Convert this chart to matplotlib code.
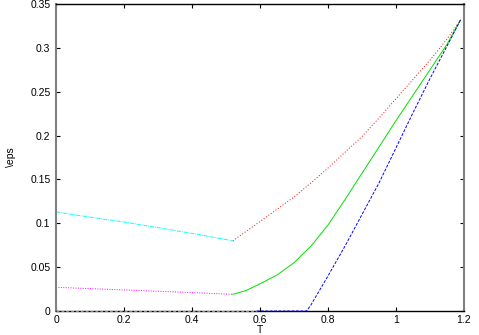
import numpy as np
import matplotlib
matplotlib.use("Agg")
import matplotlib.pyplot as plt

plt.rcParams['font.family'] = ['Liberation Sans', 'DejaVu Sans']

# low temperature branch (T below the kink)
t_low = [0.0, 0.1, 0.2, 0.3, 0.4, 0.52]
eps_cyan = [0.113, 0.107, 0.1015, 0.095, 0.0885, 0.080]
eps_magenta = [0.027, 0.0255, 0.024, 0.0225, 0.021, 0.019]

# high temperature branch
t_high = [0.52, 0.56, 0.6, 0.65, 0.7, 0.75, 0.8, 0.85, 0.9, 0.95,
          1.0, 1.05, 1.1, 1.15, 1.19]
eps_red = [0.080, 0.091, 0.102, 0.116, 0.130, 0.146, 0.163, 0.181, 0.199,
           0.220, 0.242, 0.264, 0.286, 0.310, 0.332]
eps_green = [0.019, 0.0235, 0.031, 0.041, 0.055, 0.074, 0.098, 0.127, 0.157,
             0.187, 0.217, 0.246, 0.275, 0.304, 0.332]

t_blue = [0.59, 0.65, 0.7, 0.737, 0.75, 0.8, 0.85, 0.9, 0.95, 1.0, 1.05,
          1.1, 1.15, 1.19]
eps_blue = [0.0, 0.0, 0.0, 0.0, 0.007, 0.040, 0.074, 0.110, 0.146, 0.186,
            0.226, 0.265, 0.302, 0.332]

t_zero = [0.0, 0.59]
eps_zero = [0.0, 0.0]

fig = plt.figure(figsize=(4.79, 3.35), dpi=100)
ax = fig.add_axes([56/479, 1 - 311/335, 408/479, 307/335])

lw = 0.7
ax.plot(t_zero, eps_zero, color='#a0a000', lw=lw, dashes=(3, 2),
        zorder=5, clip_on=False)
ax.plot(t_high, eps_red, color='red', lw=lw, dashes=(1, 2))
ax.plot(t_high, eps_green, color='#00e000', lw=lw)
ax.plot(t_blue, eps_blue, color='blue', lw=lw, dashes=(3, 1.5),
        zorder=5, clip_on=False)
ax.plot(t_low, eps_magenta, color='magenta', lw=lw, dashes=(1, 1.5))
ax.plot(t_low, eps_cyan, color='cyan', lw=lw, dashes=(4, 1, 1, 1))

ax.set_xlim(0, 1.2)
ax.set_ylim(0, 0.35)
ax.set_xticks(np.arange(0, 1.21, 0.2))
ax.set_xticklabels(['0', '0.2', '0.4', '0.6', '0.8', '1', '1.2'])
ax.set_yticks(np.arange(0, 0.351, 0.05))
ax.set_yticklabels(['0', '0.05', '0.1', '0.15', '0.2', '0.25', '0.3', '0.35'])
ax.tick_params(direction='in', top=True, right=True, length=3, width=0.8,
               labelsize=7.5, pad=4)
ax.tick_params(axis='x', pad=3)
ax.set_xlabel('T', fontsize=7.5, labelpad=0)
ax.set_ylabel(r'\eps', fontsize=7.5, labelpad=10)

for side in ['left', 'right']:
    ax.spines[side].set_color('#808080')
    ax.spines[side].set_linewidth(1.5)
for side in ['top', 'bottom']:
    ax.spines[side].set_color('black')
    ax.spines[side].set_linewidth(1.0)

fig.savefig('out.png', dpi=100)
